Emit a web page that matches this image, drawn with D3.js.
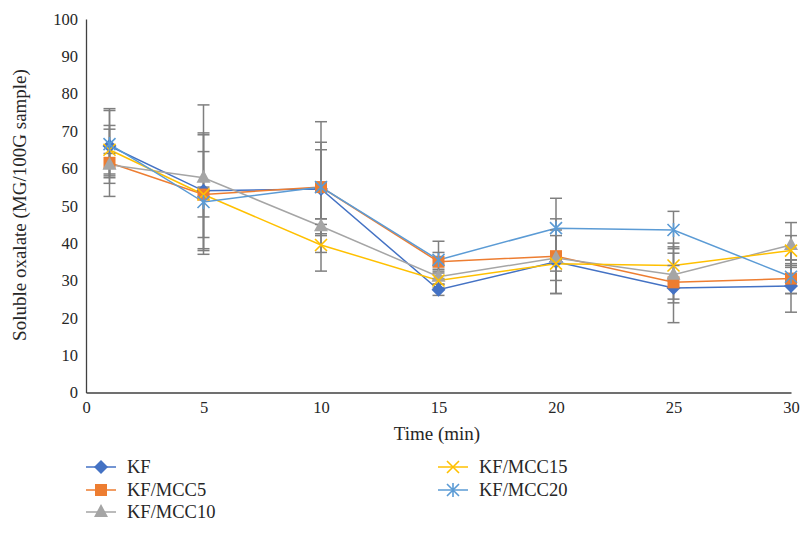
<!DOCTYPE html>
<html>
<head>
<meta charset="utf-8">
<script src="https://cdn.jsdelivr.net/npm/d3@7"></script>
<style>
  html, body { margin: 0; padding: 0; background: #fff; }
  svg { display: block; }
  text { font-family: "Liberation Serif", "DejaVu Serif", serif; fill: #262626; }
</style>
</head>
<body>
<svg id="chart" width="801" height="534"></svg>
<script>
// ---- data ----
const times = [1, 5, 10, 15, 20, 25, 30];
const seriesNames = ["KF", "KF/MCC5", "KF/MCC10", "KF/MCC15", "KF/MCC20"];
const kf      = [66, 54, 54.5, 27.5, 35, 28, 28.5];
const mcc5    = [61.5, 53, 55, 35, 36.5, 29.5, 30.5];
const mcc10   = [61, 57.5, 44.5, 31, 36, 31.5, 39.5];
const mcc15   = [65, 53, 39.5, 30, 34.5, 34, 38];
const mcc20   = [66.5, 51, 55, 35.5, 44, 43.5, 31];
const kfErr    = [10, 15.5, 12.5, 1.5, 8.5, 9.3, 7];
const mcc5Err  = [9, 11.5, 17.5, 2.5, 10, 4.5, 4];
const mcc10Err = [3, 19.5, 2, 2, 6, 7.5, 6];
const mcc15Err = [6.5, 16, 7, 2, 2, 6, 4];
const mcc20Err = [9, 4, 10, 5, 8, 5, 4.5];
const xTicks = [0, 5, 10, 15, 20, 25, 30];
const yTicks = [0, 10, 20, 30, 40, 50, 60, 70, 80, 90, 100];

const colors = ["#4472C4", "#ED7D31", "#A5A5A5", "#FFC000", "#5B9BD5"];
const shapes = ["diamond", "square", "triangle", "x", "star"];
const values = [kf, mcc5, mcc10, mcc15, mcc20];
const errors = [kfErr, mcc5Err, mcc10Err, mcc15Err, mcc20Err];

const svg = d3.select("#chart");
const x = d3.scaleLinear().domain([0, 30]).range([86, 791]);
const y = d3.scaleLinear().domain([0, 100]).range([392.5, 19]);

// axes
const yAxis = svg.append("g").attr("transform", "translate(86,0)")
  .call(d3.axisLeft(y).tickValues(yTicks).tickSize(0).tickPadding(8));
const xAxis = svg.append("g").attr("transform", "translate(0,392.5)")
  .call(d3.axisBottom(x).tickValues(xTicks).tickSize(0).tickPadding(9));
[yAxis, xAxis].forEach(a => {
  a.select(".domain").attr("stroke", "#404040").attr("stroke-width", 1.3);
  a.selectAll("text").attr("font-size", 16.5).attr("fill", "#262626")
    .style("font-family", '"Liberation Serif", serif');
});

svg.append("text").attr("x", 437).attr("y", 440).attr("text-anchor", "middle")
  .attr("font-size", 19).text("Time (min)");
svg.append("text").attr("transform", "translate(26,205) rotate(-90)")
  .attr("text-anchor", "middle").attr("font-size", 19)
  .text("Soluble oxalate (MG/100G sample)");

function marker(g, shape, color, cx, cy) {
  if (shape === "diamond") {
    g.append("path").attr("d", `M${cx},${cy-7}L${cx+7},${cy}L${cx},${cy+7}L${cx-7},${cy}Z`).attr("fill", color);
  } else if (shape === "square") {
    g.append("rect").attr("x", cx-6).attr("y", cy-6).attr("width", 12).attr("height", 12).attr("fill", color);
  } else if (shape === "triangle") {
    g.append("path").attr("d", `M${cx},${cy-8}L${cx+7},${cy+5}L${cx-7},${cy+5}Z`).attr("fill", color);
  } else if (shape === "x") {
    g.append("path").attr("d", `M${cx-6},${cy-6}L${cx+6},${cy+6}M${cx-6},${cy+6}L${cx+6},${cy-6}`)
      .attr("stroke", color).attr("stroke-width", 1.6).attr("fill", "none");
  } else {
    g.append("path").attr("d", `M${cx-6},${cy-6}L${cx+6},${cy+6}M${cx-6},${cy+6}L${cx+6},${cy-6}M${cx},${cy-7}L${cx},${cy+7}`)
      .attr("stroke", color).attr("stroke-width", 1.6).attr("fill", "none");
  }
}

const line = d3.line().x((d, i) => x(times[i])).y(d => y(d));
const plot = svg.append("g");
// lines
values.forEach((vals, s) => {
  plot.append("path").datum(vals).attr("d", line)
    .attr("fill", "none").attr("stroke", colors[s]).attr("stroke-width", 1.5);
});
// error bars
const eb = svg.append("g").attr("stroke", "#7F7F7F").attr("stroke-width", 1.5);
values.forEach((vals, s) => {
  vals.forEach((v, i) => {
    const cx = x(times[i]), lo = y(v - errors[s][i]), hi = y(v + errors[s][i]);
    eb.append("line").attr("x1", cx).attr("x2", cx).attr("y1", lo).attr("y2", hi);
    eb.append("line").attr("x1", cx-6).attr("x2", cx+6).attr("y1", lo).attr("y2", lo);
    eb.append("line").attr("x1", cx-6).attr("x2", cx+6).attr("y1", hi).attr("y2", hi);
  });
});
// markers
const mk = svg.append("g");
values.forEach((vals, s) => {
  vals.forEach((v, i) => marker(mk, shapes[s], colors[s], x(times[i]), y(v)));
});

// legend
const legendPos = [[86, 467], [86, 490], [86, 512], [438, 467], [438, 490]];
const lg = svg.append("g");
seriesNames.forEach((name, s) => {
  const [lx, ly] = legendPos[s];
  lg.append("line").attr("x1", lx).attr("x2", lx + 30).attr("y1", ly).attr("y2", ly)
    .attr("stroke", colors[s]).attr("stroke-width", 1.5);
  marker(lg, shapes[s], colors[s], lx + 15, ly);
  lg.append("text").attr("x", lx + 41).attr("y", ly).attr("dy", "0.35em")
    .attr("font-size", 18.5).text(name);
});
</script>
</body>
</html>
